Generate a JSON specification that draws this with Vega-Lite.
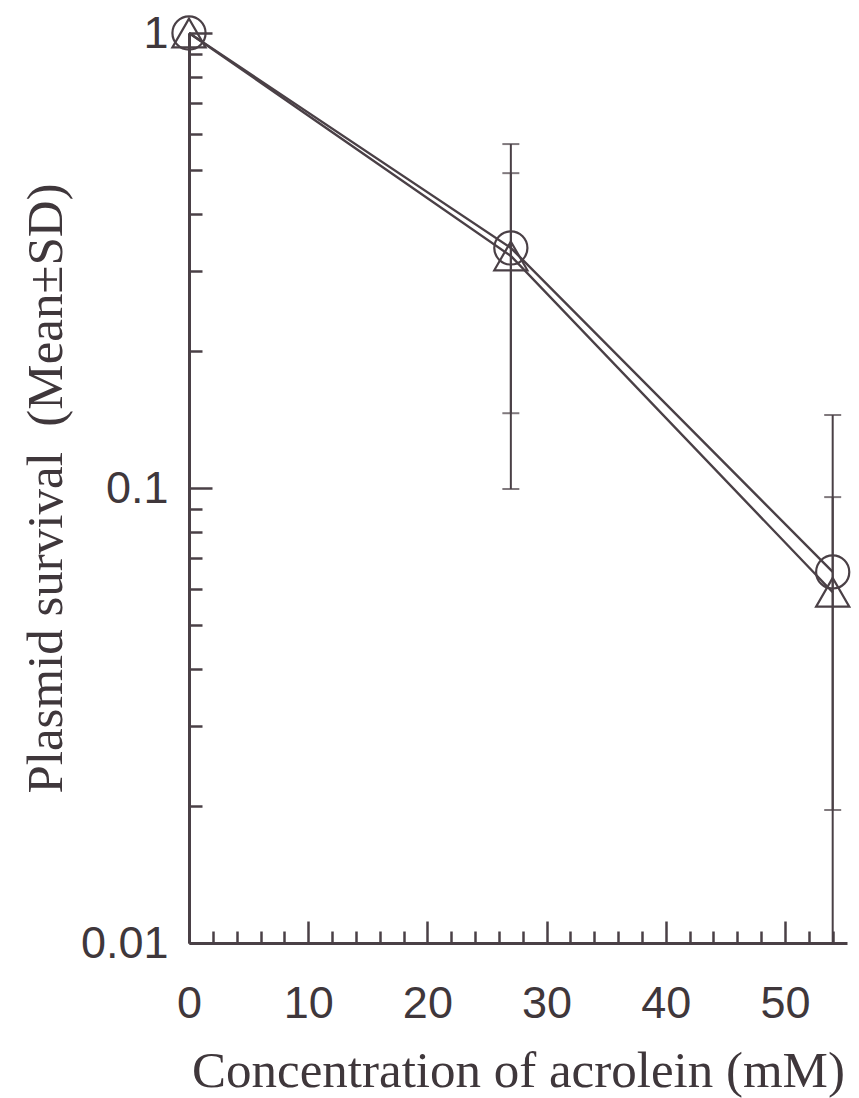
{
  "$schema": "https://vega.github.io/schema/vega-lite/v6.json",
  "width": 658,
  "height": 910,
  "autosize": {"type": "none"},
  "padding": {"left": 189, "top": 33, "right": 12, "bottom": 155},
  "background": "white",
  "config": {
    "view": {"stroke": null},
    "axis": {
      "grid": false,
      "domainColor": "#4a4046",
      "tickColor": "#4a4046",
      "labelColor": "#3f373b",
      "titleColor": "#3f373b",
      "labelFont": "Liberation Sans",
      "titleFont": "Liberation Serif",
      "titleFontWeight": "normal",
      "labelFontSize": 45,
      "titleFontSize": 51,
      "domainWidth": 3,
      "tickWidth": 2.5
    }
  },
  "data": {
    "values": [
      {"conc": 0, "series": "A", "mean": 1.0, "lo": null, "hi": null},
      {"conc": 27, "series": "A", "mean": 0.337, "lo": 0.0995, "hi": 0.57},
      {"conc": 54, "series": "A", "mean": 0.0654, "lo": 0.01, "hi": 0.1447},
      {"conc": 0, "series": "B", "mean": 1.0, "lo": null, "hi": null},
      {"conc": 27, "series": "B", "mean": 0.3236, "lo": 0.146, "hi": 0.492},
      {"conc": 54, "series": "B", "mean": 0.059, "lo": 0.0196, "hi": 0.0955}
    ]
  },
  "layer": [
    {
      "mark": {"type": "line", "color": "#4a4046", "strokeWidth": 2.4},
      "encoding": {
        "x": {
          "field": "conc",
          "type": "quantitative",
          "scale": {"domain": [0, 55.2], "nice": false, "zero": false},
          "axis": {
            "values": [0, 2, 4, 6, 8, 10, 12, 14, 16, 18, 20, 22, 24, 26, 28, 30, 32, 34, 36, 38, 40, 42, 44, 46, 48, 50, 52, 54],
            "tickCount": 200,
            "labelExpr": "datum.value % 10 == 0 ? format(datum.value, 'd') : ''",
            "tickSize": {"condition": {"test": "datum.value % 10 == 0", "value": -22}, "value": -12},
            "labelPadding": 60,
            "labelFlush": false,
            "labelOverlap": false,
            "title": "Concentration of acrolein (mM)",
            "titlePadding": 10
          }
        },
        "y": {
          "field": "mean",
          "type": "quantitative",
          "scale": {"type": "log", "domain": [0.01, 1], "nice": false},
          "axis": {
            "values": [0.01, 0.02, 0.03, 0.04, 0.05, 0.06, 0.07, 0.08, 0.09, 0.1, 0.2, 0.3, 0.4, 0.5, 0.6, 0.7, 0.8, 0.9, 1],
            "tickCount": 200,
            "labelExpr": "datum.value == 1 ? '1' : datum.value == 0.1 ? '0.1' : datum.value == 0.01 ? '0.01' : ''",
            "tickSize": {"condition": {"test": "datum.value == 1 || datum.value == 0.1 || datum.value == 0.01", "value": -23}, "value": -13},
            "labelPadding": 44,
            "labelFlush": false,
            "labelOverlap": false,
            "title": "Plasmid survival\u00a0 (Mean±SD)",
            "titlePadding": 8
          }
        },
        "detail": {"field": "series"}
      }
    },
    {
      "transform": [{"filter": "datum.hi != null"}],
      "mark": {"type": "rule", "color": "#4a4046", "strokeWidth": 2},
      "encoding": {
        "x": {"field": "conc", "type": "quantitative"},
        "y": {"field": "lo", "type": "quantitative"},
        "y2": {"field": "hi"}
      }
    },
    {
      "transform": [
        {"filter": "datum.hi != null"},
        {"fold": ["lo", "hi"], "as": ["end", "val"]},
        {"filter": "datum.val > 0.01"}
      ],
      "mark": {"type": "tick", "orient": "horizontal", "color": "#4a4046", "size": 17, "thickness": 2},
      "encoding": {
        "x": {"field": "conc", "type": "quantitative"},
        "y": {"field": "val", "type": "quantitative"}
      }
    },
    {
      "mark": {"type": "point", "filled": false, "color": "#4a4046", "strokeWidth": 2.2, "size": 1100, "opacity": 1},
      "encoding": {
        "x": {"field": "conc", "type": "quantitative"},
        "y": {"field": "mean", "type": "quantitative"},
        "shape": {"field": "series", "type": "nominal", "scale": {"domain": ["A", "B"], "range": ["circle", "triangle-up"]}, "legend": null}
      }
    }
  ]
}
